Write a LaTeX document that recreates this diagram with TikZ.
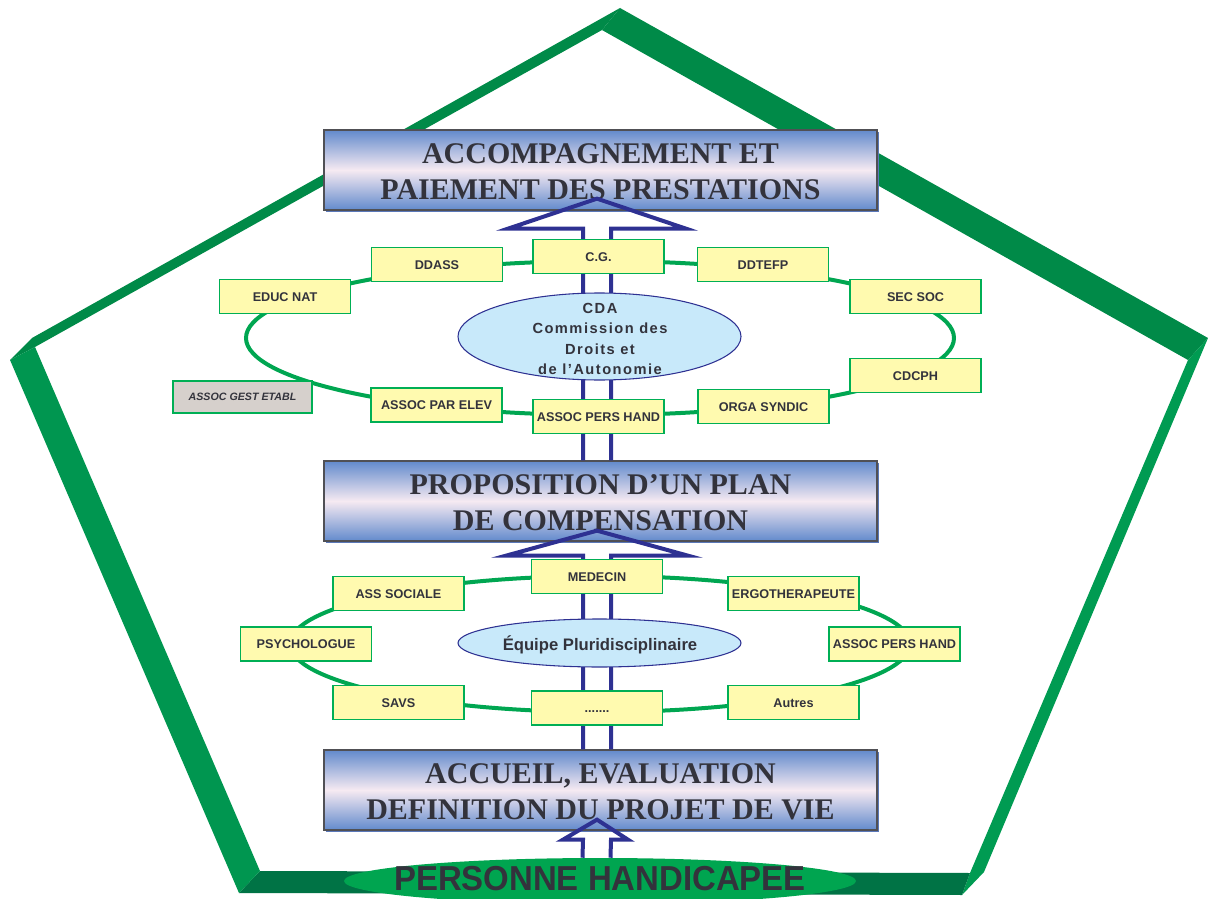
\documentclass[tikz,border=0pt]{standalone}
\usepackage{fontspec}
\setmainfont{Liberation Serif}
\newfontfamily\sansf{Liberation Sans}
\newfontfamily\cdaf{Liberation Sans}[LetterSpace=10]
\usetikzlibrary{shapes.geometric,calc,shadows}
\definecolor{ink}{RGB}{51,51,60}
\definecolor{gA}{RGB}{0,138,72}
\definecolor{gB}{RGB}{0,150,80}
\definecolor{gC}{RGB}{0,155,82}
\definecolor{gD}{RGB}{0,115,69}
\definecolor{ringg}{RGB}{0,166,81}
\definecolor{yfill}{RGB}{255,250,175}
\definecolor{yborder}{RGB}{0,175,85}
\definecolor{grayfill}{RGB}{214,208,204}
\definecolor{hblue}{RGB}{98,138,204}
\definecolor{hpink}{RGB}{246,234,242}
\definecolor{hbord}{RGB}{80,80,85}
\definecolor{hshadow}{RGB}{90,120,185}
\definecolor{navy}{RGB}{46,49,146}
\definecolor{lblue}{RGB}{200,233,250}
\definecolor{phg}{RGB}{0,165,80}
\begin{document}
\begin{tikzpicture}[x=0.75pt,y=-0.75pt,
  hdr/.style={draw=hbord,line width=1pt,minimum width=414.75pt,minimum height=60pt,inner sep=0pt,
    top color=hblue,bottom color=hblue,middle color=hpink,
    drop shadow={shadow xshift=1.5pt,shadow yshift=-1.5pt,fill=hshadow,opacity=1}},
  htext/.style={font=\bfseries\fontsize{22.5pt}{27pt}\selectfont,text=ink,align=center,inner sep=0pt},
  ybox/.style={draw=yborder,line width=0.9pt,fill=yfill,minimum width=98.25pt,minimum height=25.5pt,
    inner sep=0pt,text=ink,font=\sansf\bfseries\fontsize{9.5pt}{11pt}\selectfont,
    text height=6.8pt,text depth=0pt},
  gbox/.style={ybox,fill=grayfill,font=\sansf\bfseries\itshape\fontsize{8pt}{10pt}\selectfont,
    minimum width=104.25pt,minimum height=24pt,text height=5.7pt},
  ring/.style={draw=ringg,line width=3pt},
  hollow/.style={draw=navy,line width=3pt,line join=miter},
  oval/.style={ellipse,draw=navy,line width=0.8pt,fill=lblue,inner sep=0pt},
]
\useasboundingbox (0,0) rectangle (1208,899);
% pentagon frame
\fill[gA] (10,360) -- (32,338) -- (620,8) -- (602,30) -- (35,347) -- cycle;
\fill[gA] (620,8) -- (1208,338) -- (1188,360) -- (602,30) -- cycle;
\fill[gC] (1208,338) -- (984,872) -- (962,895) -- (970,873) -- (1188,360) -- cycle;
\fill[gD] (260,871) -- (970,873) -- (962,895) -- (239,893) -- cycle;
\fill[gB] (10,360) -- (239,893) -- (260,871) -- (35,347) -- cycle;
% person ellipse
\node[ellipse,fill=phg,minimum width=384pt,minimum height=34.5pt,inner sep=0pt] (ph) at (600,881) {};
\node[font=\sansf\bfseries\fontsize{26pt}{30pt}\selectfont,text=ink,inner sep=0pt,text height=18.6pt,text depth=0pt] (pht) at (600,878.5) {\scalebox{0.95}[1]{PERSONNE HANDICAPEE}};
% header boxes
\node[hdr] (b1) at (600.5,170) {};
\node[htext] (t1) at ($(b1.center)+(0,2)$) {ACCOMPAGNEMENT ET\\PAIEMENT DES PRESTATIONS};
\node[hdr] (b2) at (600.5,501) {};
\node[htext] (t2) at ($(b2.center)+(0,1.5)$) {PROPOSITION D’UN PLAN\\DE COMPENSATION};
\node[hdr] (b3) at (600.5,790) {};
\node[htext] (t3) at ($(b3.center)+(0,2)$) {ACCUEIL, EVALUATION\\DEFINITION DU PROJET DE VIE};
% rings
\coordinate (rc1) at (600,338);
\draw[ring] (rc1) ellipse [x radius=265.5pt, y radius=57.75pt];
\coordinate (rc2) at (600,644);
\draw[ring] (rc2) ellipse [x radius=232.5pt, y radius=51pt];
% hollow arrows
\draw[hollow] ($(b2.north)+(-17.5,0)$) -- ($(b1.south)+(-17.5,18)$) -- ($(b1.south)+(-92.5,18)$)
  -- ($(b1.south)+(-3.5,-12)$) -- ($(b1.south)+(85.5,18)$) -- ($(b1.south)+(10.5,18)$) -- ($(b2.north)+(10.5,0)$);
\draw[hollow] ($(b3.north)+(-17.5,0)$) -- ($(b2.south)+(-17.5,14)$) -- ($(b2.south)+(-94.5,14)$)
  -- ($(b2.south)+(-3.5,-11)$) -- ($(b2.south)+(87.5,14)$) -- ($(b2.south)+(10.5,14)$) -- ($(b3.north)+(10.5,0)$);
\draw[hollow] ($(ph.north)+(-17.5,0)$) -- ($(b3.south)+(-17.5,9)$) -- ($(b3.south)+(-37.5,9)$)
  -- ($(b3.south)+(-3.5,-11)$) -- ($(b3.south)+(27.5,9)$) -- ($(b3.south)+(10.5,9)$) -- ($(ph.north)+(10.5,0)$);
% upper ring boxes
\node[ybox] (cg) at (598.5,256.5) {C.G.};
\node[ybox] (ddass) at (437,264.5) {DDASS};
\node[ybox] (ddtefp) at (763,264.5) {DDTEFP};
\node[ybox] (educ) at (285,296.5) {EDUC NAT};
\node[ybox] (secsoc) at (915.5,296.5) {SEC SOC};
\node[ybox] (cdcph) at (915.5,375.5) {CDCPH};
\node[ybox] (parelev) at (436.5,405) {ASSOC PAR ELEV};
\node[ybox] (persh1) at (598.5,416.5) {ASSOC PERS HAND};
\node[ybox] (orga) at (763.5,406.5) {ORGA SYNDIC};
\node[gbox] (gest) at (242.5,397) {ASSOC GEST ETABL};
% CDA
\node[oval,minimum width=212.25pt,minimum height=65.25pt] (cda) at (599.5,336.5) {};
\node[font=\cdaf\bfseries\fontsize{11pt}{15.4pt}\selectfont,text=ink,align=center,inner sep=0pt] (cdat) at (600,339) {CDA\\Commission des\\Droits et\\de l’Autonomie};
% lower ring boxes
\node[ybox] (med) at (597,576.5) {MEDECIN};
\node[ybox] (asssoc) at (398.5,593.5) {ASS SOCIALE};
\node[ybox] (ergo) at (793.5,593.5) {ERGOTHERAPEUTE};
\node[ybox] (psy) at (306,644) {PSYCHOLOGUE};
\node[ybox] (persh2) at (894.5,644) {ASSOC PERS HAND};
\node[ybox] (savs) at (398.5,702.5) {SAVS};
\node[ybox] (etc) at (597,708) {.......};
\node[ybox] (autres) at (793.5,702.5) {Autres};
% equipe
\node[oval,minimum width=212.25pt,minimum height=36pt] (eq) at (599.5,643) {};
\node[font=\sansf\bfseries\fontsize{12.5pt}{14pt}\selectfont,text=ink,inner sep=0pt,text height=8.95pt,text depth=0pt] (eqt) at (600,644.5) {Équipe Pluridisciplinaire};
\end{tikzpicture}
\end{document}
